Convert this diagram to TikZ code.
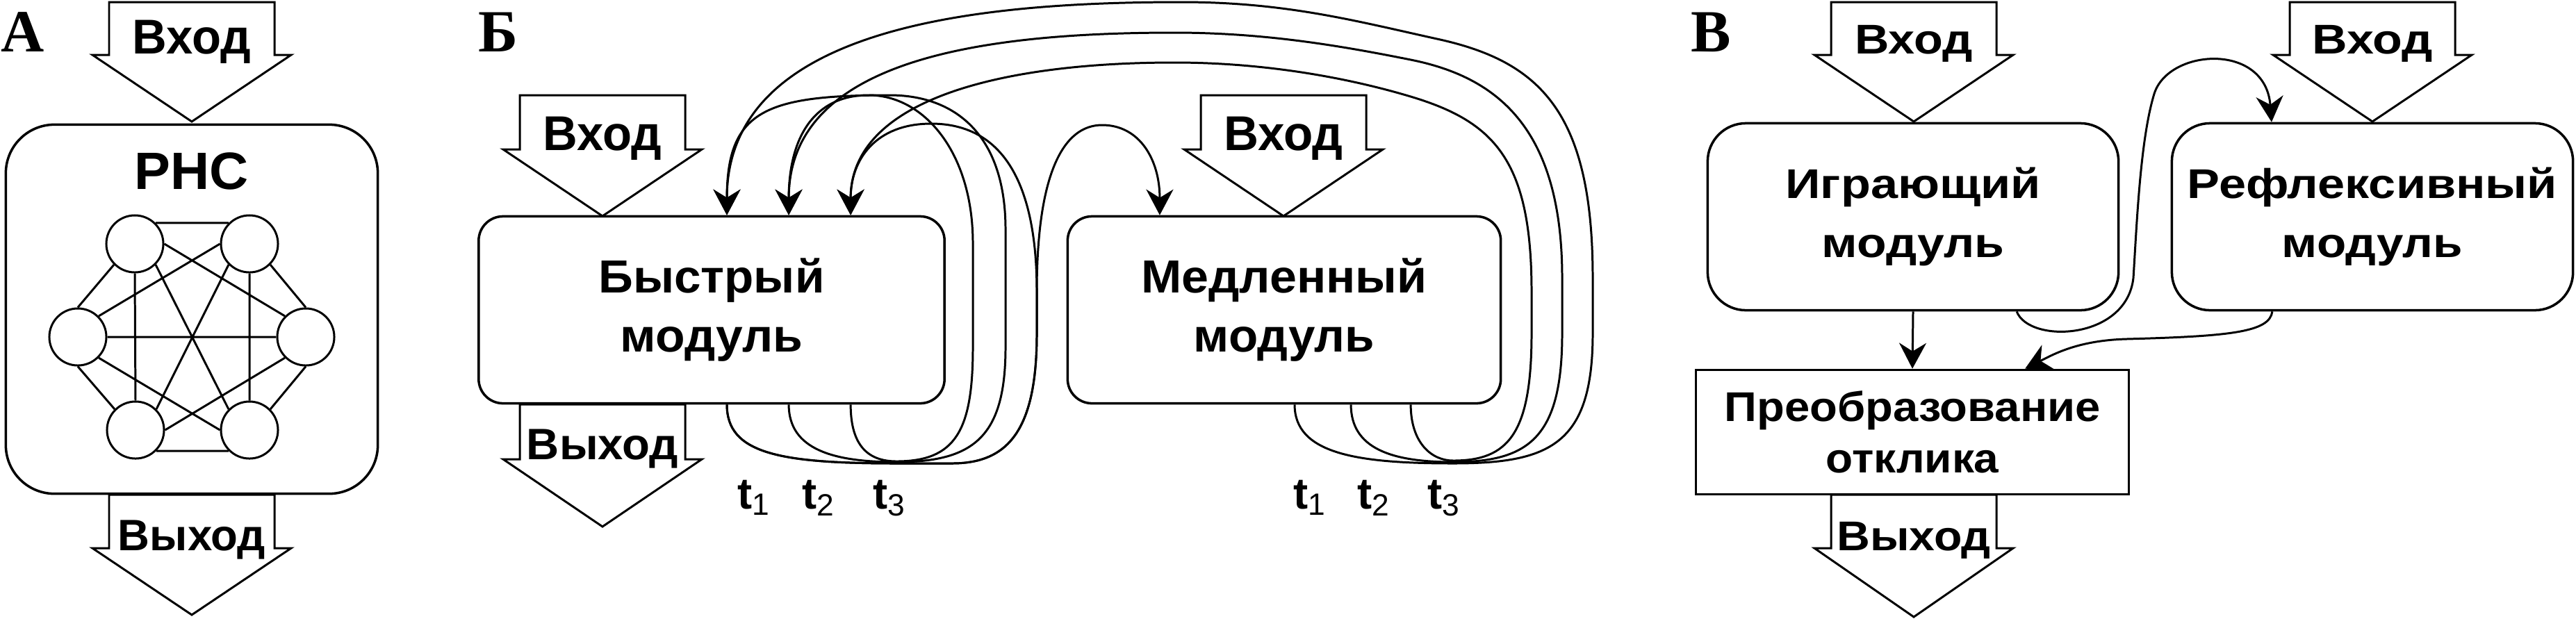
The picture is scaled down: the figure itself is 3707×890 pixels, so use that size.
\documentclass[tikz,border=0pt]{standalone}
\usepackage{graphicx}
\usepackage{fontspec}
\setmainfont{Liberation Sans}
\newfontfamily\letterfont{Liberation Serif}
\usetikzlibrary{arrows.meta}

\begin{document}
\begin{tikzpicture}[x=0.01cm, y=-0.01cm, line width=0.85pt,
	module/.style={draw, line width=1pt, align=center, inner sep=0pt, font=\bfseries\fontsize{19}{24}\selectfont},
	smallmodule/.style={module, font=\bfseries\fontsize{17}{24}\selectfont},
	neuron/.style={circle, draw, minimum size=0.82cm, inner sep=0pt},
	tlabel/.style={anchor=base, inner sep=0pt, font=\bfseries\fontsize{18}{18}\selectfont},
	panel/.style={anchor=base west, inner sep=0pt, font=\letterfont\bfseries\fontsize{24.5}{24.5}\selectfont},
	feed/.style={-{Stealth[length=3.7mm, width=3.9mm, inset=1.2mm]}},
	]
	\useasboundingbox (0,0) rectangle (3707,890);

	\node[panel] (la) at (0,74) {А};
	\node[panel] (lb) at (687,74) {Б};
	\node[panel] (lv) at (2432,74) {В};

	\foreach \c/\t/\h/\p/\b/\txt/\fs/\w in {276/3/79/175/77/Вход/20/1.70, 276/712/789/885/792/Выход/18/2.12,
		867/137/215/311/216/Вход/20/1.70, 867/582/661/758/661/Выход/18/2.18, 1847/137/215/311/216/Вход/20/1.71,
		2754/3/79/175/77/Вход/17/1.69, 3414/3/79/175/77/Вход/17/1.73, 2754/712/789/888/792/Выход/17/2.21}
	{
		\draw (\c-119,\t) -- (\c+119,\t) -- (\c+119,\h) -- (\c+143,\h) -- (\c,\p) -- (\c-143,\h) -- (\c-119,\h) -- cycle;
		\node[anchor=base, inner sep=0pt, font=\bfseries\fontsize{\fs}{\fs}\selectfont] (io\c-\t) at (\c,\b) {\resizebox{\w cm}{\height}{\txt}};
	}

	\node[module, rounded corners=0.7cm, minimum width=5.35cm, minimum height=5.31cm] (rnn) at (276,445) {};
	\node[anchor=base, inner sep=0pt, font=\bfseries\fontsize{21.5}{21.5}\selectfont] (rnnname) at (276,272) {\resizebox{1.64cm}{\height}{РНС}};
	\node[neuron] (n1) at (194,351) {};
	\node[neuron] (n2) at (359,351) {};
	\node[neuron] (n3) at (112,485) {};
	\node[neuron] (n4) at (440,485) {};
	\node[neuron] (n5) at (195,619) {};
	\node[neuron] (n6) at (359,619) {};
	\draw (n1.north east) -- (n2.north west) (n5.south east) -- (n6.south west)
		(n1.south) -- (n5.north) (n2.south) -- (n6.north) (n3.east) -- (n4.west)
		(n1.south west) -- (n3.north) (n2.south east) -- (n4.north)
		(n3.south) -- (n5.north west) (n4.south) -- (n6.north east)
		(n1.south east) -- (n6.north west) (n2.south west) -- (n5.north east)
		(n1.east) -- (n4.north west) (n2.west) -- (n3.north east)
		(n3.south east) -- (n6.west) (n4.south west) -- (n5.east);

	\node[module, rounded corners=0.35cm, minimum width=6.7cm, minimum height=2.69cm] (fast) at (1024,446)
		{\resizebox{3.25cm}{\height}{Быстрый}\\\resizebox{2.62cm}{\height}{модуль}};
	\node[module, rounded corners=0.35cm, minimum width=6.23cm, minimum height=2.69cm] (slow) at (1848,446)
		{\resizebox{4.11cm}{\height}{Медленный}\\\resizebox{2.6cm}{\height}{модуль}};
	\foreach \i/\dx in {1/0.22, 2/1.11, 3/2.0} {
		\coordinate (fo\i) at ([xshift=\dx cm]fast.south);
		\coordinate (fi\i) at ([xshift=\dx cm]fast.north);
	}
	\foreach \i/\dx in {1/0.15, 2/0.96, 3/1.82}
		\coordinate (so\i) at ([xshift=\dx cm]slow.south);
	\coordinate (si) at ([xshift=-1.79cm]slow.north);

	\draw[feed] (fo1) .. controls +(0,70) and (1120,667) .. (1290,667) -- (1370,667) .. controls (1450,667) and (1492,620) .. (1492,480) -- (1492,420)
		.. controls (1492,230) and (1420,178) .. (1340,178) .. controls (1260,178) and (1224,230) .. (fi3);
	\draw[feed] (fo1) .. controls +(0,70) and (1120,667) .. (1290,667) -- (1370,667) .. controls (1450,667) and (1492,620) .. (1492,480) -- (1492,420)
		.. controls (1492,250) and (1530,180) .. (1586,180) .. controls (1640,180) and (1669,230) .. (si);
	\draw[feed] (fo2) .. controls +(0,65) and (1200,665) .. (1290,665) .. controls (1400,665) and (1447,630) .. (1447,500) -- (1447,330)
		.. controls (1447,200) and (1380,137) .. (1280,137) .. controls (1100,137) and (1046,160) .. (fi1);
	\draw[feed] (fo3) .. controls +(0,60) and (1250,664) .. (1290,664) .. controls (1375,664) and (1400,620) .. (1400,500) -- (1400,350)
		.. controls (1400,220) and (1330,137) .. (1250,137) .. controls (1170,137) and (1135,200) .. (fi2);

	\draw[feed] (so1) .. controls +(0,70) and (1950,667) .. (2091,667) .. controls (2230,667) and (2292,640) .. (2292,480) -- (2292,400)
		.. controls (2292,160) and (2215,88) .. (2068,56) .. controls (1950,30) and (1850,3) .. (1700,3) .. controls (1400,3) and (1046,40) .. (fi1);
	\draw[feed] (so2) .. controls +(0,62) and (2000,665) .. (2091,665) .. controls (2200,665) and (2248,630) .. (2248,480) -- (2248,400)
		.. controls (2248,180) and (2150,110) .. (2030,86) .. controls (1930,66) and (1820,47) .. (1690,47) .. controls (1400,47) and (1135,90) .. (fi2);
	\draw[feed] (so3) .. controls +(0,55) and (2060,663) .. (2091,663) .. controls (2170,663) and (2204,625) .. (2204,480) -- (2204,420)
		.. controls (2204,230) and (2150,175) .. (2030,139) .. controls (1940,112) and (1820,90) .. (1690,90) .. controls (1450,90) and (1224,140) .. (fi3);

	\foreach \x/\i in {1085/1, 1178/2, 1280/3, 1885/1, 1977/2, 2078/3}
		\node[tlabel] (t\x) at (\x,732) {t\textsubscript{\mdseries\i}};

	\node[smallmodule, rounded corners=0.55cm, minimum width=5.91cm, minimum height=2.69cm] (play) at (2753,312)
		{\resizebox{3.67cm}{\height}{Играющий}\\\resizebox{2.62cm}{\height}{модуль}};
	\node[smallmodule, rounded corners=0.55cm, minimum width=5.77cm, minimum height=2.69cm] (refl) at (3414,312)
		{\resizebox{5.32cm}{\height}{Рефлексивный}\\\resizebox{2.6cm}{\height}{модуль}};
	\node[smallmodule, font=\bfseries\fontsize{17}{21}\selectfont, minimum width=6.23cm, minimum height=1.79cm] (resp) at (2752,622)
		{\resizebox{5.41cm}{\height}{Преобразование}\\\resizebox{2.49cm}{\height}{отклика}};
	\coordinate (po) at ([xshift=1.49cm]play.south);
	\coordinate (ri) at ([xshift=-1.45cm]refl.north);
	\coordinate (ro) at ([xshift=-1.44cm]refl.south);
	\coordinate (rsi) at ([xshift=1.62cm]resp.north);

	\draw[feed] (play.south) -- (resp.north);
	\draw[feed] (ro) .. controls (3266,478) and (3210,484) .. (3060,488) .. controls (2990,490) and (2955,510) .. (rsi);
	\draw[feed] (po) .. controls (2920,495) and (3060,490) .. (3070,400) .. controls (3075,320) and (3080,200) .. (3100,135)
		.. controls (3120,70) and (3260,60) .. (ri);
\end{tikzpicture}
\end{document}
